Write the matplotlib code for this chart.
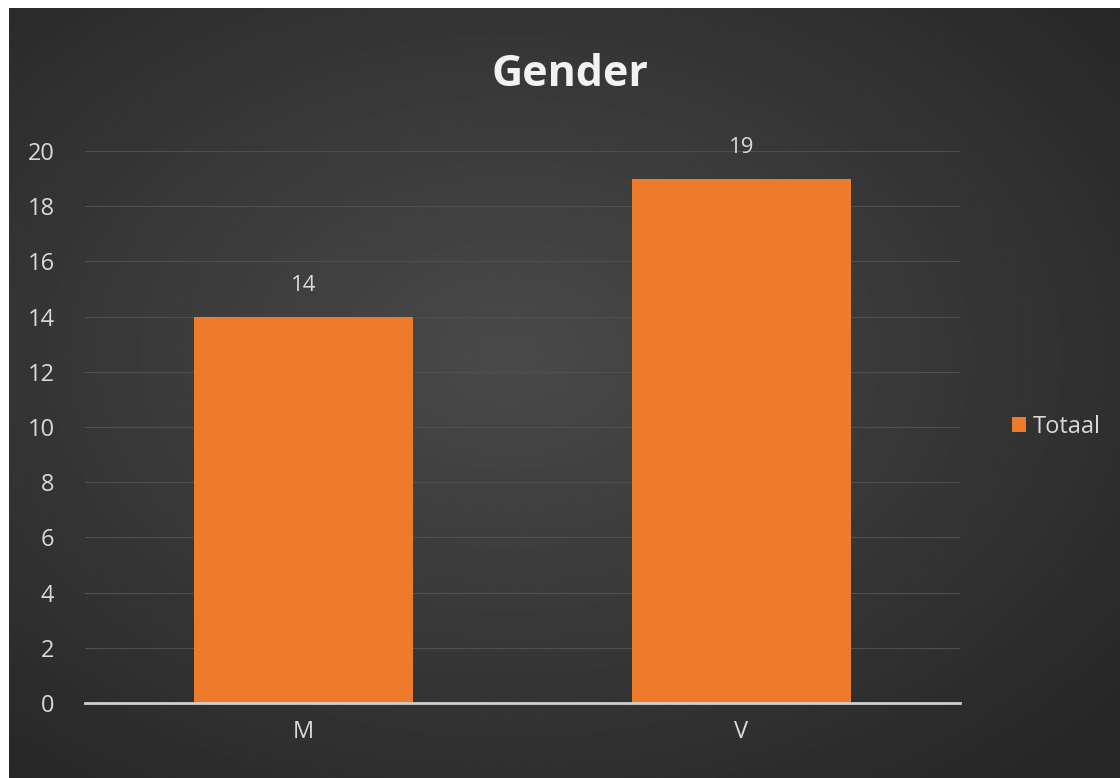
import numpy as np
import matplotlib
matplotlib.use("Agg")
import matplotlib.pyplot as plt

## Data
categories = ["M", "V"]
totals = [14, 19]
y_ticks = [0, 2, 4, 6, 8, 10, 12, 14, 16, 18, 20]
title = "Gender"
series_name = "Totaal"

plt.rcParams['font.family'] = ['Open Sans', 'DejaVu Sans']

fig = plt.figure(figsize=(11.2, 7.78), dpi=100)
fig.patch.set_facecolor('white')

# dark radial background (white strip on top and left like the screenshot)
bg = fig.add_axes([9/1120, 0, 1 - 9/1120, 1 - 8/778])
yy, xx = np.mgrid[0:1:300j, 0:1:400j]
r = np.sqrt(((xx - 0.45) / 1.0) ** 2 + ((yy - 0.45) / 1.0) ** 2)
shade = np.clip(0.29 - 0.19 * r, 0.155, 0.29)
bg.imshow(shade, cmap='gray', vmin=0, vmax=1, aspect='auto',
          extent=[0, 1, 0, 1], interpolation='bilinear')
bg.set_axis_off()

ax = fig.add_axes([85/1120, 75/778, 875/1120, 552/778])
ax.set_facecolor('none')

x = np.arange(len(categories))
bars = ax.bar(x, totals, width=0.5, color='#EE7A2C', zorder=3, label=series_name)

for xi, v in zip(x, totals):
    ax.text(xi, v + 0.75, str(v), ha='center', va='bottom', color='#d9d9d9',
            fontsize=16, clip_on=False)

ax.set_xlim(-0.5, 1.5)
ax.set_ylim(0, 20)
ax.set_yticks(y_ticks)
ax.set_xticks(x)
ax.set_xticklabels(categories)
ax.tick_params(axis='both', colors='#d9d9d9', labelsize=17, length=0)
ax.tick_params(axis='y', pad=22)
ax.tick_params(axis='x', pad=12)
ax.grid(axis='y', color='#4f4f4f', linewidth=0.8, zorder=0)
for s in ['top', 'right', 'left']:
    ax.spines[s].set_visible(False)
ax.spines['bottom'].set_color('#d0d0d0')
ax.spines['bottom'].set_linewidth(2)
ax.spines['bottom'].set_zorder(4)

fig.text(570/1120, 1 - 75/778, title, ha='center', va='center',
         color='#f2f2f2', fontsize=31, fontweight='bold')

leg = ax.legend(loc='center left', bbox_to_anchor=(1.035, 0.5), frameon=False,
                fontsize=17, handlelength=0.6, handleheight=0.6,
                handletextpad=0.3, labelcolor='#d9d9d9')

fig.savefig('out.png', dpi=100)
